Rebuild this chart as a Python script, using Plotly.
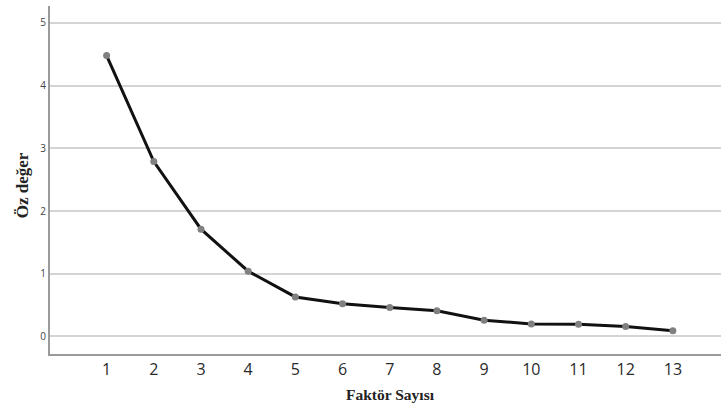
import plotly.graph_objects as go

factors = [1, 2, 3, 4, 5, 6, 7, 8, 9, 10, 11, 12, 13]
eigenvalues = [4.48, 2.79, 1.71, 1.04, 0.63, 0.52, 0.46, 0.41, 0.26, 0.20, 0.195, 0.16, 0.09]
y_ticks = [0, 1, 2, 3, 4, 5]

fig = go.Figure()
fig.add_trace(go.Scatter(
    x=factors, y=eigenvalues, mode="lines+markers",
    line=dict(color="#111111", width=3),
    marker=dict(color="#808080", size=7),
    showlegend=False,
))

fig.update_layout(
    width=721, height=403,
    margin=dict(l=50, r=0, t=6, b=49),
    plot_bgcolor="white", paper_bgcolor="white",
    xaxis=dict(
        range=[-0.2, 14.02], tickvals=factors, ticktext=[str(f) for f in factors],
        showgrid=False, zeroline=False, showline=True, linecolor="#9a9a9a", linewidth=2,
        ticks="", ticklen=0, tickfont=dict(family="Open Sans", size=16, color="#2a2a2a"),
        automargin=False,
    ),
    yaxis=dict(
        range=[-0.28, 5.27], tickvals=y_ticks,
        showgrid=True, gridcolor="#d4d4d4", gridwidth=1.5, zeroline=False,
        showline=True, linecolor="#9a9a9a", linewidth=2,
        ticks="", tickfont=dict(family="Open Sans", size=10, color="#444444"),
        automargin=False,
    ),
    annotations=[
        dict(text="<b>Faktör Sayısı</b>", xref="paper", yref="paper", x=0.508, y=0,
             xanchor="center", yanchor="middle", yshift=-40, showarrow=False,
             font=dict(family="Liberation Serif", size=15.5, color="#222222")),
        dict(text="<b>Öz değer</b>", xref="paper", yref="paper", x=0, y=0.485,
             xanchor="center", yanchor="middle", xshift=-28, textangle=-90, showarrow=False,
             font=dict(family="Liberation Serif", size=17, color="#222222")),
    ],
)

fig.write_html("out.html", config={"displayModeBar": False},
               post_script="document.body.style.margin='0';document.body.style.overflow='hidden';")
